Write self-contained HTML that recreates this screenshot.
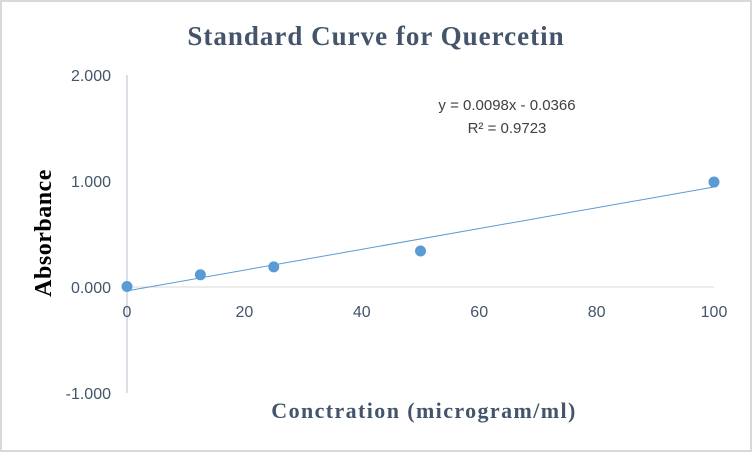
<!DOCTYPE html>
<html><head><meta charset="utf-8"><style>
body{margin:0;background:#fff}
svg{display:block}
</style></head><body>
<svg width="752" height="452" xmlns="http://www.w3.org/2000/svg">
<rect x="1" y="1" width="750" height="450" fill="#fff" stroke="#d9d9d9" stroke-width="2"/>
<text x="376" y="45" text-anchor="middle" font-family="Liberation Serif, serif" font-weight="bold" font-size="27" letter-spacing="1" fill="#44546a">Standard Curve for Quercetin</text>
<text transform="translate(51,233) rotate(-90)" text-anchor="middle" font-family="Liberation Serif, serif" font-weight="bold" font-size="24" letter-spacing="0.5" fill="#000">Absorbance</text>
<text x="424" y="418" text-anchor="middle" font-family="Liberation Serif, serif" font-weight="bold" font-size="22" letter-spacing="1.4" fill="#44546a">Conctration  (microgram/ml)</text>
<g id="axes"></g>
<g id="marks"></g>
<text x="507" y="110" text-anchor="middle" font-family="Liberation Sans, sans-serif" font-size="15" fill="#404040">y = 0.0098x - 0.0366</text>
<text x="507" y="133" text-anchor="middle" font-family="Liberation Sans, sans-serif" font-size="15" fill="#404040">R² = 0.9723</text>
</svg>
<script>
const xValues=[0,12.5,25,50,100];
const yValues=[0.005,0.115,0.19,0.34,0.99];
const xTicks=[0,20,40,60,80,100];
const yTicks=[2,1,0,-1];
const slope=0.0098, intercept=-0.0366;
const NS='http://www.w3.org/2000/svg';
const X=v=>127+v*(714-127)/100;
const Y=v=>287-v*106;
const axes=document.getElementById('axes'), marks=document.getElementById('marks');
function mk(tag,attrs,parent,txt){const e=document.createElementNS(NS,tag);for(const k in attrs)e.setAttribute(k,attrs[k]);if(txt!==undefined)e.textContent=txt;parent.appendChild(e);return e;}
let l=mk('line',{x1:X(0),x2:X(0),y1:Y(2),y2:Y(-1),stroke:'#b4bccc','stroke-width':1},axes);


l=mk('line',{x1:X(0),x2:X(100),y1:Y(0),y2:Y(0),stroke:'#d9d9d9','stroke-width':1},axes);


yTicks.forEach(t=>{const e=mk('text',{x:111,y:Y(t)+6,'text-anchor':'end','font-family':'Liberation Sans, sans-serif','font-size':16,fill:'#44546a'},axes,t.toFixed(3));

});
xTicks.forEach(t=>{const e=mk('text',{x:X(t),y:Y(0)+30,'text-anchor':'middle','font-family':'Liberation Sans, sans-serif','font-size':16,fill:'#44546a'},axes,String(t));

});
const tl=mk('line',{x1:X(0),y1:Y(intercept),x2:X(100),y2:Y(slope*100+intercept),stroke:'#5b9bd5','stroke-width':1},marks);


xValues.forEach((x,i)=>{const c=mk('circle',{cx:X(x),cy:Y(yValues[i]),r:5.5,fill:'#5b9bd5'},marks);

});
</script>
</body></html>
